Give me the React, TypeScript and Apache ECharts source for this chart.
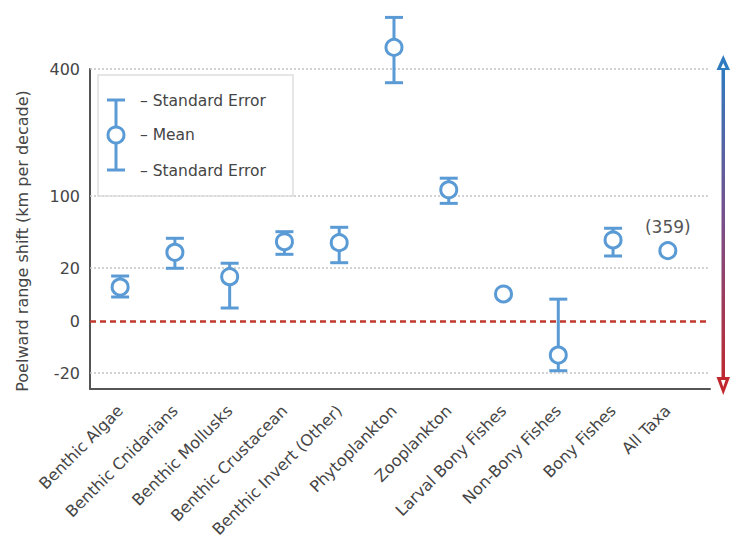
import React, { useEffect, useRef } from "react";
import * as echarts from "echarts";

// ---- data (km per decade) ----
const categories = [
  "Benthic Algae",
  "Benthic Cnidarians",
  "Benthic Mollusks",
  "Benthic Crustacean",
  "Benthic Invert (Other)",
  "Phytoplankton",
  "Zooplankton",
  "Larval Bony Fishes",
  "Non-Bony Fishes",
  "Bony Fishes",
  "All Taxa",
];
const means = [8.2, 32.2, 14.0, 42.1, 41.2, 471, 110, 5.2, -8.6, 43.9, 33.7];
const upperSE = [14.4, 45.6, 23.4, 52.7, 57.7, 579, 130, 5.8, 3.4, 56.6, 35.2];
const lowerSE = [4.1, 19.8, 1.2, 30.5, 23.8, 358, 89, 4.6, -18.3, 29.1, 32.2];
const annotations = ["", "", "", "", "", "", "", "", "", "", "(359)"];
const tickValues = [-20, 0, 20, 100, 400];
const gridValues = [-20, 20, 100, 400];
const yTitle = "Poelward range shift (km per decade)";
const legendLabels = ["– Standard Error", "– Mean", "– Standard Error"];

// ---- axis scale (signed square-root, piecewise between tick knots) ----
const KNOT_POS = [-52, 0, 53, 125, 252];
const ssqrt = (v: number) => Math.sign(v) * Math.sqrt(Math.abs(v));
function tf(v: number): number {
  let i = 0;
  while (i < tickValues.length - 2 && v > tickValues[i + 1]) i++;
  const s0 = ssqrt(tickValues[i]);
  const s1 = ssqrt(tickValues[i + 1]);
  return KNOT_POS[i] + ((ssqrt(v) - s0) / (s1 - s0)) * (KNOT_POS[i + 1] - KNOT_POS[i]);
}

const BLUE = "#5B9BD5";
const TEXT = "#454545";
const FONT = "DejaVu Sans";

export default function App() {
  const ref = useRef<HTMLDivElement>(null);
  useEffect(() => {
    document.body.style.margin = "0";
    if (!ref.current) return;
    const chart = echarts.init(ref.current, undefined, { renderer: "svg" });
    const data = categories.map((_, i) => [i, tf(lowerSE[i]), tf(upperSE[i]), tf(means[i])]);
    const R = 8;
    const HW = 9;
    const legendText = (text: string, y: number) => ({
      type: "text",
      x: 140,
      y,
      style: { text, fill: TEXT, fontSize: 15.5, fontFamily: FONT, verticalAlign: "middle" },
      z: 10,
    });
    chart.setOption({
      animation: false,
      backgroundColor: "#fff",
      textStyle: { fontFamily: FONT },
      grid: { left: 90, right: 22, top: 69, bottom: 154 },
      xAxis: {
        type: "value",
        min: -0.55,
        max: 10.77,
        axisLine: { show: true, onZero: false, lineStyle: { color: "#555", width: 2 } },
        axisTick: { show: false },
        splitLine: { show: false },
        axisLabel: {
          customValues: categories.map((_, i) => i),
          formatter: (v: number) => categories[Math.round(v)] ?? "",
          rotate: 45,
          margin: 19,
          fontSize: 16,
          color: TEXT,
          fontFamily: FONT,
        },
      },
      yAxis: {
        type: "value",
        min: tf(-20) - 16,
        max: tf(400),
        axisLine: { show: true, onZero: false, lineStyle: { color: "#555", width: 2 } },
        axisTick: { show: false },
        splitLine: { show: false },
        axisLabel: {
          customValues: tickValues.map(tf),
          formatter: (v: number) => {
            let best = 0;
            tickValues.forEach((t, i) => {
              if (Math.abs(tf(t) - v) < Math.abs(tf(tickValues[best]) - v)) best = i;
            });
            return String(tickValues[best]);
          },
          fontSize: 16,
          color: TEXT,
          margin: 10,
          fontFamily: FONT,
        },
      },
      series: [
        {
          type: "line",
          data: [],
          silent: true,
          markLine: {
            silent: true,
            symbol: "none",
            label: { show: false },
            data: [
              ...gridValues.map((v) => ({
                yAxis: tf(v),
                lineStyle: { type: [2, 2], color: "#c4c4c4", width: 1.5 },
              })),
              { yAxis: tf(0), lineStyle: { type: [6, 4], color: "#C0392B", width: 2.5 } },
            ],
          },
        },
        {
          type: "custom",
          data,
          z: 5,
          renderItem: (params: any, api: any) => {
            const x = api.value(0);
            const lo = api.coord([x, api.value(1)]);
            const hi = api.coord([x, api.value(2)]);
            const m = api.coord([x, api.value(3)]);
            const st = { stroke: BLUE, lineWidth: 3, fill: null };
            const children: any[] = [];
            if (hi[1] < m[1] - R) {
              children.push({ type: "line", shape: { x1: m[0], y1: m[1], x2: hi[0], y2: hi[1] }, style: st });
              children.push({ type: "line", shape: { x1: hi[0] - HW, y1: hi[1], x2: hi[0] + HW, y2: hi[1] }, style: st });
            }
            if (lo[1] > m[1] + R) {
              children.push({ type: "line", shape: { x1: m[0], y1: m[1], x2: lo[0], y2: lo[1] }, style: st });
              children.push({ type: "line", shape: { x1: lo[0] - HW, y1: lo[1], x2: lo[0] + HW, y2: lo[1] }, style: st });
            }
            children.push({
              type: "circle",
              shape: { cx: m[0], cy: m[1], r: R },
              style: { fill: "#fff", stroke: BLUE, lineWidth: 3 },
            });
            const ann = annotations[params.dataIndex];
            if (ann) {
              children.push({
                type: "text",
                style: {
                  x: m[0],
                  y: m[1] - 24,
                  text: ann,
                  fill: "#555",
                  fontSize: 17,
                  fontFamily: FONT,
                  align: "center",
                  verticalAlign: "middle",
                },
              });
            }
            return { type: "group", children };
          },
        },
      ],
      graphic: [
        {
          type: "text",
          x: 22,
          y: 241,
          rotation: Math.PI / 2,
          style: {
            text: yTitle,
            fill: TEXT,
            fontSize: 16,
            fontFamily: FONT,
            align: "center",
            verticalAlign: "middle",
          },
        },
        {
          type: "rect",
          shape: { x: 98, y: 75, width: 195, height: 121 },
          style: { fill: "rgba(255,255,255,0)", stroke: "#dedede", lineWidth: 1.5 },
          z: 10,
        },
        { type: "line", shape: { x1: 116, y1: 100, x2: 116, y2: 170 }, style: { stroke: BLUE, lineWidth: 3 }, z: 10 },
        { type: "line", shape: { x1: 107, y1: 100, x2: 125, y2: 100 }, style: { stroke: BLUE, lineWidth: 3 }, z: 10 },
        { type: "line", shape: { x1: 107, y1: 170, x2: 125, y2: 170 }, style: { stroke: BLUE, lineWidth: 3 }, z: 10 },
        {
          type: "circle",
          shape: { cx: 116, cy: 135, r: 8 },
          style: { fill: "#fff", stroke: BLUE, lineWidth: 3 },
          z: 11,
        },
        legendText(legendLabels[0], 101),
        legendText(legendLabels[1], 135),
        legendText(legendLabels[2], 171),
        {
          type: "rect",
          shape: { x: 721.5, y: 64, width: 3.5, height: 318 },
          style: {
            fill: new echarts.graphic.LinearGradient(0, 0, 0, 1, [
              { offset: 0, color: "#2E7BC0" },
              { offset: 0.5, color: "#7A4F8A" },
              { offset: 1, color: "#C0282D" },
            ]),
          },
          z: 10,
        },
        {
          type: "polygon",
          shape: { points: [[723.25, 55], [716.5, 70], [730, 70]] },
          style: { fill: "#2E7BC0" },
          z: 11,
        },
        {
          type: "polygon",
          shape: { points: [[723.25, 63], [721, 68], [725.5, 68]] },
          style: { fill: "#ffffff" },
          z: 12,
        },
        {
          type: "polygon",
          shape: { points: [[723.25, 395], [716.5, 377], [730, 377]] },
          style: { fill: "#C0282D" },
          z: 11,
        },
        {
          type: "polygon",
          shape: { points: [[723.25, 387], [721, 380], [725.5, 380]] },
          style: { fill: "#ffffff" },
          z: 12,
        },
      ],
    });
    return () => chart.dispose();
  }, []);
  return <div ref={ref} style={{ width: 732, height: 543 }} />;
}
